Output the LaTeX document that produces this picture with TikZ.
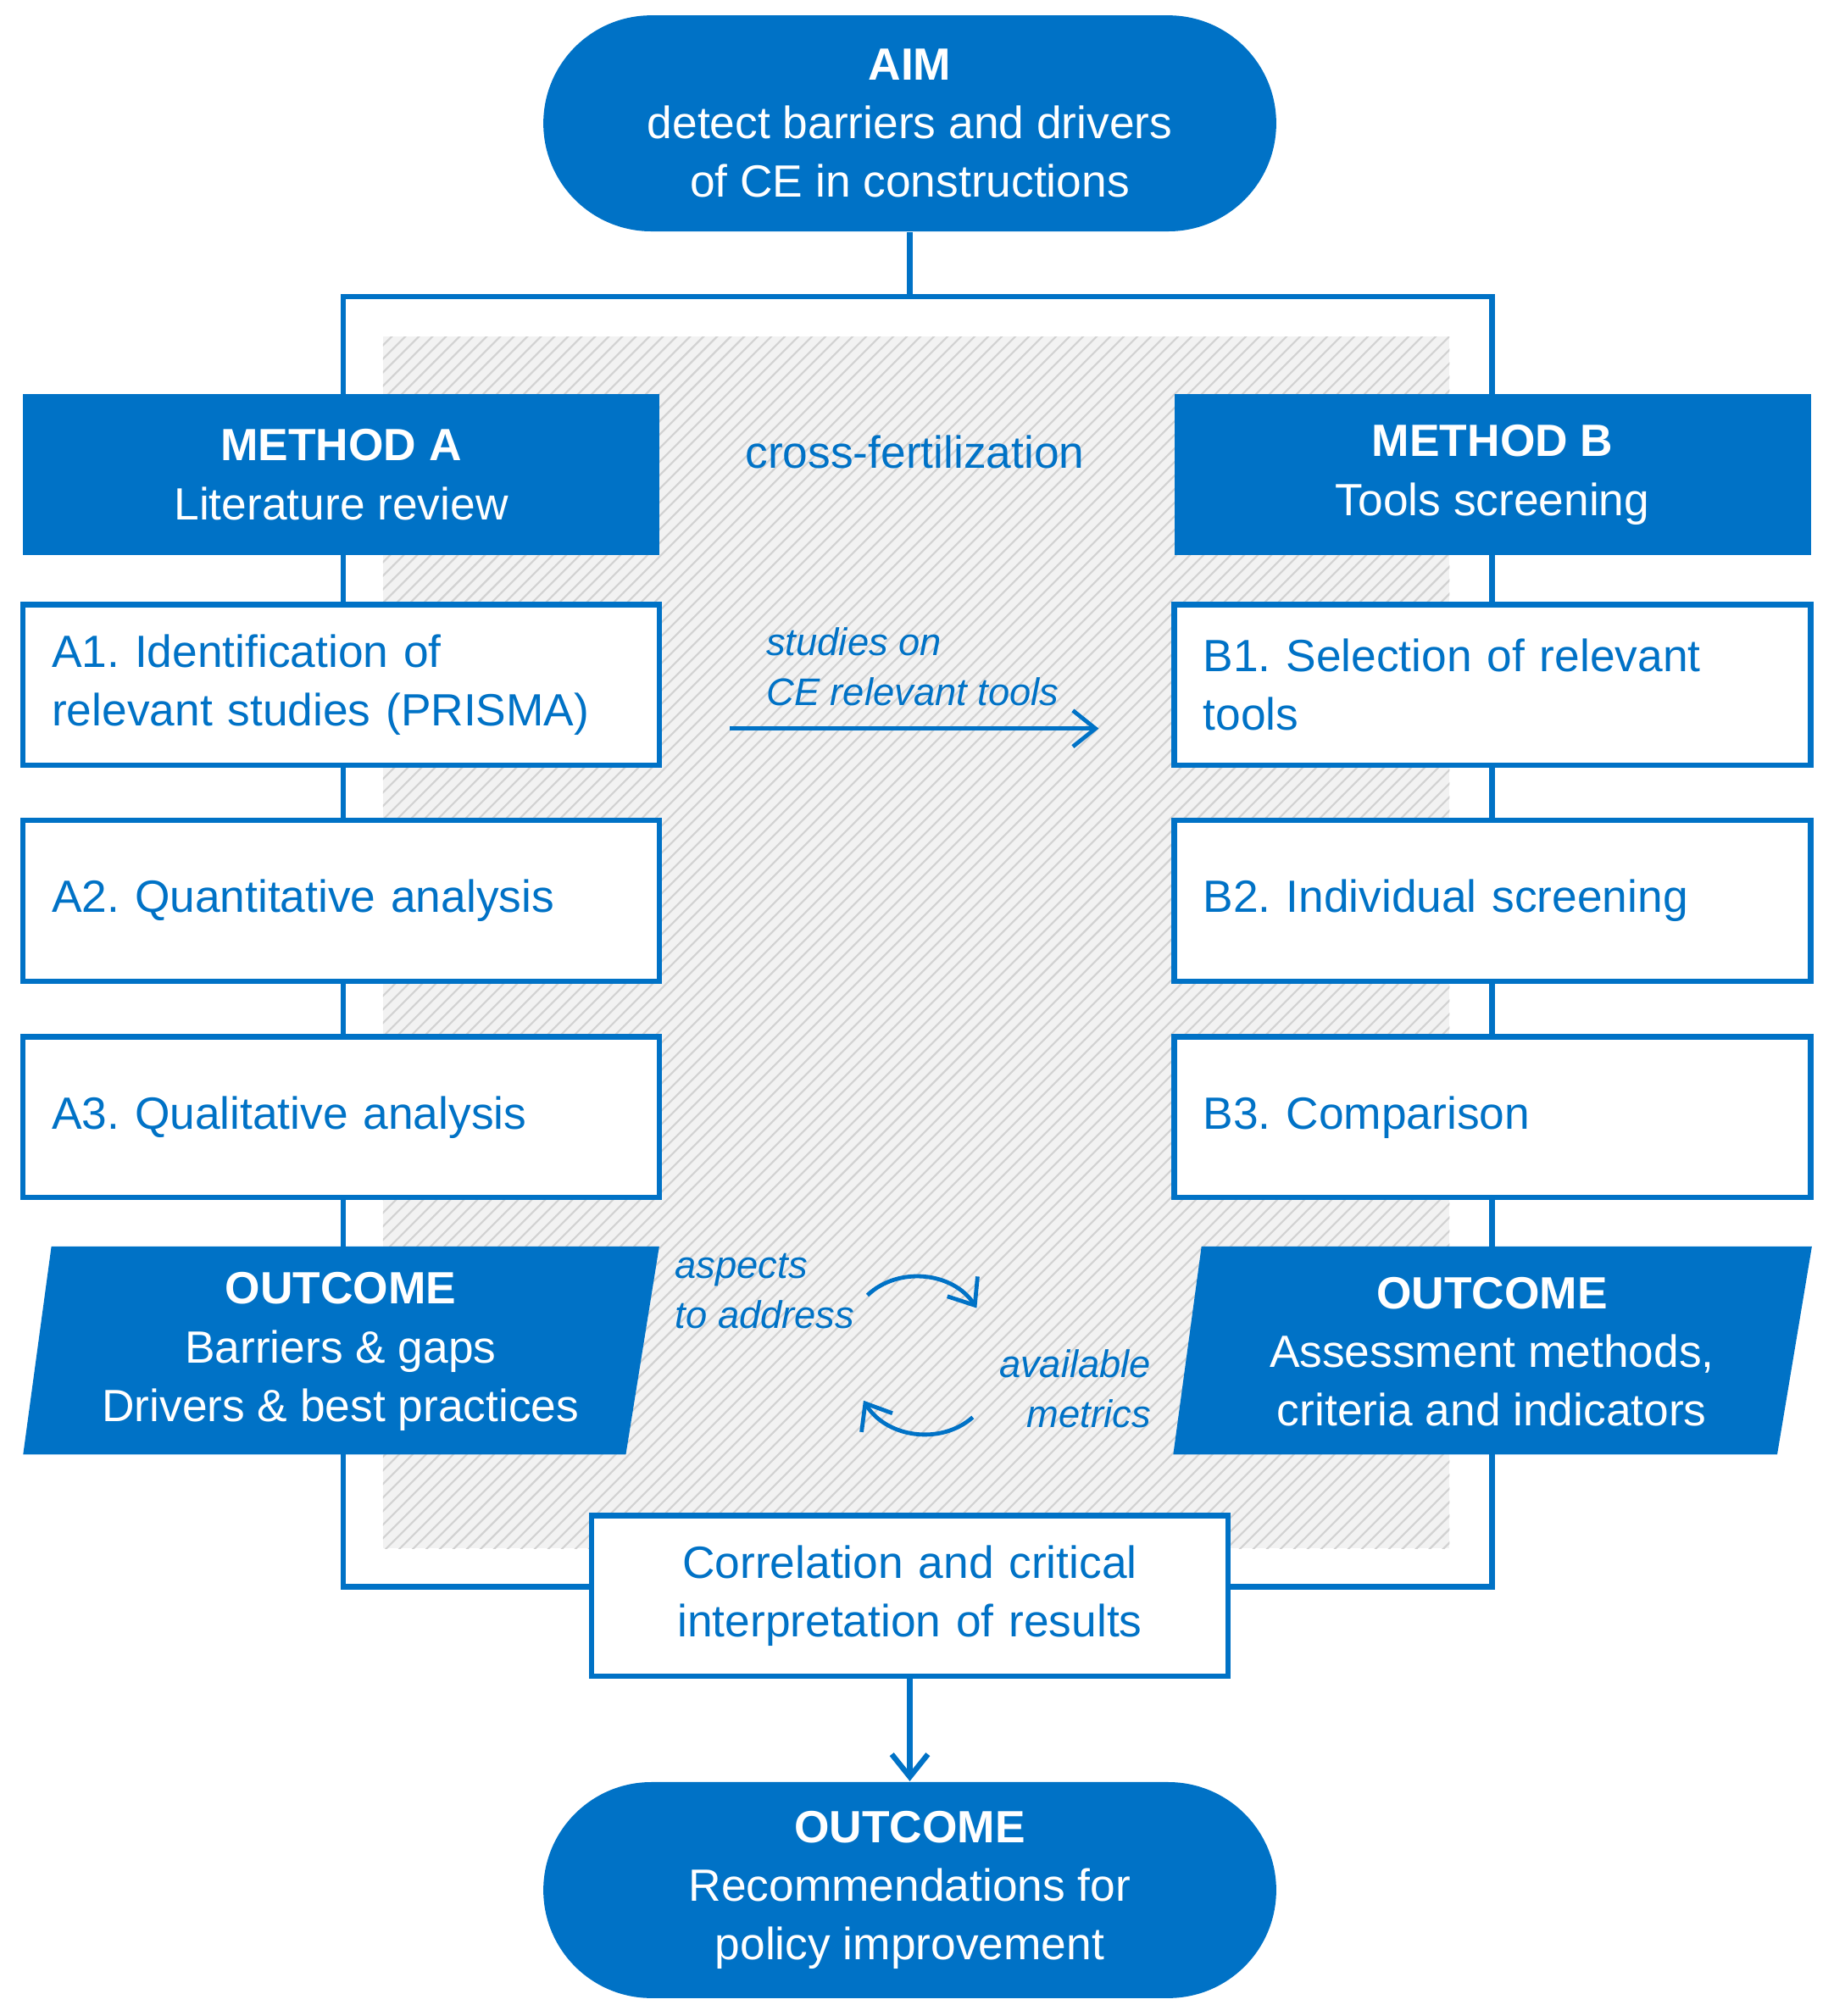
\documentclass[tikz,border=0pt]{standalone}
\usepackage{fontspec}
\setmainfont{Liberation Sans}
\frenchspacing
\usetikzlibrary{patterns,arrows.meta}
\definecolor{ceblue}{HTML}{0072C6}
\tikzset{
  line/.style={draw=ceblue, line width=1.2pt},
  stadium/.style={fill=ceblue, text=white, minimum width=5.7cm, minimum height=1.68cm,
    rounded corners=0.84cm, align=center, font=\fontsize{10}{13}\selectfont},
  head/.style={fill=ceblue, text=white, minimum width=4.95cm, minimum height=1.25cm,
    align=center, font=\fontsize{10}{13}\selectfont},
  stage/.style={line, fill=white, minimum width=4.95cm, minimum height=1.25cm,
    text width=4.5cm, inner xsep=0.22cm, align=left, text=ceblue, font=\fontsize{10}{13}\selectfont},
  note/.style={text=ceblue, font=\fontsize{8.5}{11}\selectfont\itshape},
}
\begin{document}
\begin{tikzpicture}[x=0.01cm, y=-0.01cm]
\useasboundingbox (0,0) rectangle (1427,1569);
% the shaded area
\fill[gray!10] (298,262) rectangle (1128,1205);
\fill[pattern=north east lines, pattern color=gray!35] (298,262) rectangle (1128,1205);
% the frame
\draw[line] (267,231) rectangle (1161,1235);

% the ends
\node[stadium] (aim) at (708,96) {\textbf{AIM}\\detect barriers and drivers\\of CE in constructions};
\node[stadium] (final) at (708,1471) {\textbf{OUTCOME}\\Recommendations for\\policy improvement};
\coordinate (top) at (708,231);
\draw[line] (aim) -- (top);

% method A
\node[head] (ma) at (265.5,369.5) {\textbf{METHOD A}\\Literature review};
\node[stage] (a1) at (265.5,533) {A1. Identification of\\relevant studies (PRISMA)};
\node[stage] (a2) at (265.5,701) {A2. Quantitative analysis};
\node[stage] (a3) at (265.5,869.5) {A3. Qualitative analysis};
\fill[ceblue] (40,970) -- (513,970) -- (487,1132) -- (18,1132) -- cycle;
\node[text=white, align=center, font=\fontsize{10}{13}\selectfont] (oa) at (265,1052)
  {\textbf{OUTCOME}\\Barriers \& gaps\\Drivers \& best practices};

% method B
\node[head] (mb) at (1161.5,369.5) {\textbf{METHOD B}\\Tools screening};
\node[stage] (b1) at (1161.5,533) {B1. Selection of relevant\\tools};
\node[stage] (b2) at (1161.5,701) {B2. Individual screening};
\node[stage] (b3) at (1161.5,869.5) {B3. Comparison};
\fill[ceblue] (935,970) -- (1410,970) -- (1383,1132) -- (913,1132) -- cycle;
\node[text=white, align=center, font=\fontsize{10}{13}\selectfont] (ob) at (1161,1052)
  {\textbf{OUTCOME}\\Assessment methods,\\criteria and indicators};

% the result
\node[stage, text width=4.5cm, align=center] (corr) at (708,1242)
  {Correlation and critical\\interpretation of results};
\draw[line, -{Straight Barb[length=5pt,width=8pt]}] (corr) -- (final);

% cross-fertilization
\node[text=ceblue, font=\fontsize{10}{13}\selectfont] (cf) at (712,352) {cross-fertilization};
\node[note, align=left, anchor=west] (st) at (584,519) {studies on\\CE relevant tools};
\coordinate (s1) at (568,567);
\coordinate (s2) at (855,567);
\draw[line, line width=0.9pt, -{Straight Barb[length=5pt,width=8pt]}] (s1) -- (s2);
\node[note, align=left, anchor=west] (asp) at (513,1005) {aspects\\to address};
\node[note, align=right, anchor=east] (av) at (908,1081) {available\\metrics};
\coordinate (c1) at (675,1008);
\coordinate (c2) at (760,1018);
\coordinate (c3) at (757,1103);
\coordinate (c4) at (672,1090);
\draw[line, line width=0.9pt, -{Straight Barb[length=5pt,width=8pt]}] (c1) to[bend left=50] (c2);
\draw[line, line width=0.9pt, -{Straight Barb[length=5pt,width=8pt]}] (c3) to[bend left=50] (c4);
\end{tikzpicture}
\end{document}
